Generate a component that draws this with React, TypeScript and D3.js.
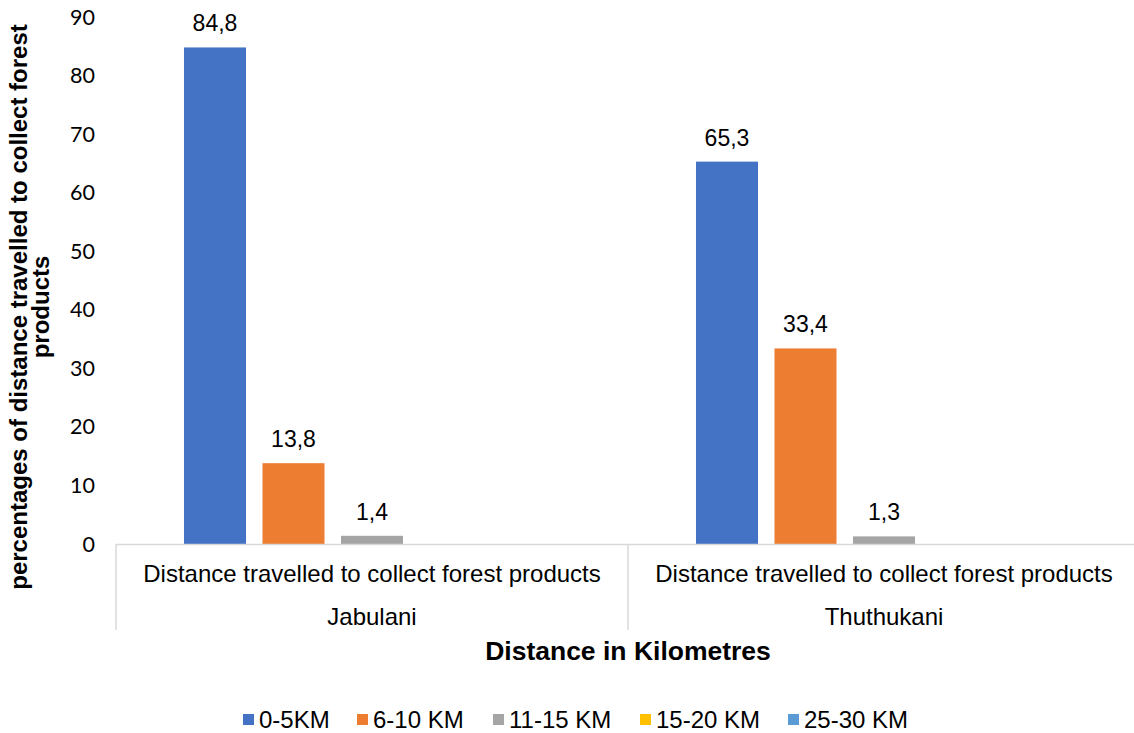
import React from "react";
import * as d3 from "d3";

const groups = ["Jabulani", "Thuthukani"];
const subLabel = "Distance travelled to collect forest products";
const seriesNames = ["0-5KM", "6-10 KM", "11-15 KM", "15-20 KM", "25-30 KM"];
const seriesColors = ["#4472C4", "#ED7D31", "#A5A5A5", "#FFC000", "#5B9BD5"];
// values per series, one per group (null = no data)
const jabulaniValues: (number | null)[] = [84.8, 13.8, 1.4, null, null];
const thuthukaniValues: (number | null)[] = [65.3, 33.4, 1.3, null, null];
const yTicks = [0, 10, 20, 30, 40, 50, 60, 70, 80, 90];

const W = 1134;
const H = 733;
const plotLeft = 116;
const plotRight = 1140;
const plotTop = 17;
const plotBottom = 544;

const ARIAL = "'Liberation Sans', Arial, sans-serif";
const TICKFONT = "Lato, 'Open Sans', sans-serif";

export default function App() {
  const values = [jabulaniValues, thuthukaniValues];
  const x0 = d3.scaleBand<string>().domain(groups).range([plotLeft, plotRight]).padding(0);
  const x1 = d3
    .scaleBand<string>()
    .domain(seriesNames)
    .range([0, x0.bandwidth()])
    .paddingInner(0.21)
    .paddingOuter(0.866);
  const y = d3.scaleLinear().domain([0, 90]).range([plotBottom, plotTop]);
  const fmt = (v: number) => d3.format(".1f")(v).replace(".", ",");

  const legendX = [243, 357, 493, 640, 788];

  return (
    <svg
      width={W}
      height={H}
      style={{ position: "absolute", left: 0, top: 0, background: "#fff" }}
    >
      {/* y tick labels */}
      {yTicks.map((t) => (
        <text
          key={t}
          x={95}
          y={y(t)}
          dy="0.35em"
          textAnchor="end"
          fontFamily={TICKFONT}
          fontSize={21.5}
          fill="#000"
        >
          {t}
        </text>
      ))}

      {/* bars */}
      {groups.map((g, gi) =>
        seriesNames.map((s, si) => {
          const v = values[gi][si];
          if (v == null) return null;
          const bx = (x0(g) as number) + (x1(s) as number);
          return (
            <g key={g + s}>
              <rect
                x={bx}
                y={y(v)}
                width={x1.bandwidth()}
                height={y(0) - y(v)}
                fill={seriesColors[si]}
              />
              <text
                x={bx + x1.bandwidth() / 2}
                y={y(v) - 16}
                textAnchor="middle"
                fontFamily={ARIAL}
                fontSize={23}
                fill="#000"
              >
                {fmt(v)}
              </text>
            </g>
          );
        })
      )}

      {/* category axis */}
      <line x1={plotLeft} x2={plotRight} y1={plotBottom + 0.5} y2={plotBottom + 0.5} stroke="#d9d9d9" strokeWidth={1.5} />
      {[...groups.map((g) => x0(g) as number), plotRight].map((xx, i) => (
        <line key={i} x1={xx} x2={xx} y1={plotBottom} y2={630} stroke="#d9d9d9" strokeWidth={1.5} />
      ))}
      {groups.map((g) => {
        const cx = (x0(g) as number) + x0.bandwidth() / 2;
        return (
          <g key={g}>
            <text x={cx} y={582} textAnchor="middle" fontFamily={ARIAL} fontSize={24} fill="#000">
              {subLabel}
            </text>
            <text x={cx} y={625} textAnchor="middle" fontFamily={ARIAL} fontSize={24} fill="#000">
              {g}
            </text>
          </g>
        );
      })}

      {/* axis titles */}
      <text
        x={628}
        y={660}
        textAnchor="middle"
        fontFamily={ARIAL}
        fontWeight="bold"
        fontSize={26.5}
        fill="#000"
      >
        Distance in Kilometres
      </text>
      <g transform="translate(0,307) rotate(-90)">
        <text x={0} y={27} textAnchor="middle" fontFamily={ARIAL} fontWeight="bold" fontSize={24} fill="#000">
          percentages of distance travelled to collect forest
        </text>
        <text x={0} y={49} textAnchor="middle" fontFamily={ARIAL} fontWeight="bold" fontSize={24} fill="#000">
          products
        </text>
      </g>

      {/* legend */}
      {seriesNames.map((s, i) => (
        <g key={s} transform={`translate(${legendX[i]},720)`}>
          <rect x={0} y={-6} width={11} height={11} fill={seriesColors[i]} />
          <text x={16} y={0} dy="0.35em" fontFamily={ARIAL} fontSize={24} fill="#000">
            {s}
          </text>
        </g>
      ))}
    </svg>
  );
}
